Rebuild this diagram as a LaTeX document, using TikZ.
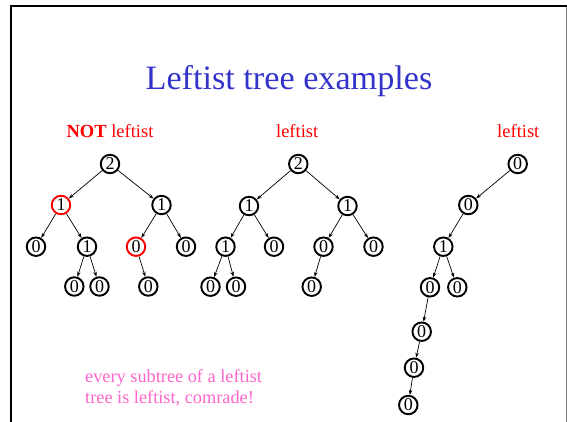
\documentclass[tikz,border=0pt]{standalone}
\usepackage{fontspec}
\setmainfont{Liberation Serif}
\usetikzlibrary{arrows.meta}
\definecolor{titleblue}{RGB}{51,51,204}
\definecolor{pinktext}{RGB}{255,102,204}
\begin{document}
\begin{tikzpicture}[x=1pt,y=-1pt,
  nd/.style={circle,draw,line width=1.9pt,inner sep=0pt,minimum size=18.5pt,font=\fontsize{18}{18}\selectfont},
  bad/.style={nd,draw=red},
  edge/.style={-{Stealth[length=5pt,width=3.5pt]},line width=0.7pt},
  lab/.style={text=red,font=\fontsize{18.5}{20}\selectfont,anchor=base,inner sep=0pt}]
\useasboundingbox (0,0) rectangle (567,422);
\fill[white] (0,0) rectangle (567,422);
% frame
\draw[line width=2.2pt] (11,422) -- (11,6) -- (567,6);
\draw[gray,line width=1pt] (566,7) -- (566,422);
% title
\node[text=titleblue,font=\fontsize{34.2}{40}\selectfont,anchor=base,inner sep=0pt] (title) at (289,90) {Leftist tree examples};
\node[lab] (l1) at (110,138) {\textbf{NOT} leftist};
\node[lab] (l2) at (297.2,138) {leftist};
\node[lab] (l3) at (518.3,138) {leftist};
% tree 1
\node[nd] (a) at (110,164) {2};
\node[bad] (b) at (61,205) {1};
\node[nd] (c) at (161.5,205) {1};
\node[nd] (d) at (36,246.7) {0};
\node[nd] (e) at (87,246.7) {1};
\node[bad] (f) at (136,246.7) {0};
\node[nd] (g) at (186,246.7) {0};
\node[nd] (h) at (74.3,286.5) {0};
\node[nd] (i) at (99.5,286.5) {0};
\node[nd] (j) at (148.3,286.5) {0};
\draw[edge] (a) -- (b);
\draw[edge] (a) -- (c);
\draw[edge] (b) -- (d);
\draw[edge] (b) -- (e);
\draw[edge] (c) -- (f);
\draw[edge] (c) -- (g);
\draw[edge] (e) -- (h);
\draw[edge] (e) -- (i);
\draw[edge] (f) -- (j);
% tree 2
\node[nd] (A) at (298.3,164) {2};
\node[nd] (B) at (249,206) {1};
\node[nd] (C) at (347.5,206) {1};
\node[nd] (D) at (225.5,246.7) {1};
\node[nd] (E) at (274,246.7) {0};
\node[nd] (F) at (323.5,246.7) {0};
\node[nd] (G) at (373.5,246.7) {0};
\node[nd] (H) at (210.5,286.7) {0};
\node[nd] (I) at (236,286.7) {0};
\node[nd] (J) at (311.7,286.7) {0};
\draw[edge] (A) -- (B);
\draw[edge] (A) -- (C);
\draw[edge] (B) -- (D);
\draw[edge] (B) -- (E);
\draw[edge] (C) -- (F);
\draw[edge] (C) -- (G);
\draw[edge] (D) -- (H);
\draw[edge] (D) -- (I);
\draw[edge] (F) -- (J);
% tree 3
\node[nd] (p) at (517.7,164) {0};
\node[nd] (q) at (468.3,205) {0};
\node[nd] (r) at (443.3,246.7) {1};
\node[nd] (s) at (430,287.3) {0};
\node[nd] (t) at (457.3,287.3) {0};
\node[nd] (u) at (421.7,331.7) {0};
\node[nd] (v) at (414,367.7) {0};
\node[nd] (w) at (408.3,405) {0};
\draw[edge] (p) -- (q);
\draw[edge] (q) -- (r);
\draw[edge] (r) -- (s);
\draw[edge] (r) -- (t);
\draw[edge] (s) -- (u);
\draw[edge] (u) -- (v);
\draw[edge] (v) -- (w);
% note
\node[text=pinktext,font=\fontsize{18.3}{21.5}\selectfont,align=left,anchor=base west,inner sep=0pt] (note) at (85,403.5) {every subtree of a leftist\\tree is leftist, comrade!};
\end{tikzpicture}
\end{document}
